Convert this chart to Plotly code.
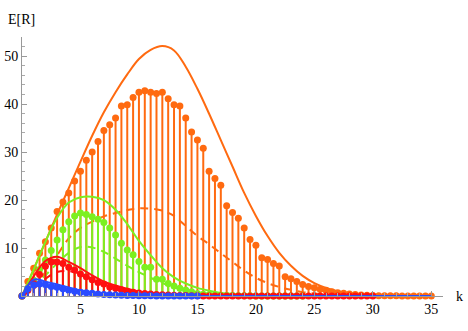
import plotly.graph_objects as go

# ---- data ----
k_orange = [i * 0.5 for i in range(71)]
orange_stems = [0, 3.0, 5.8, 8.9, 11.3, 14.2, 17.6, 19.6, 21.5, 24.0, 26.0, 28.3, 30.0, 32.2,
                34.5, 35.7, 37.1, 39.6, 39.9, 41.4, 42.5, 42.8, 42.5, 42.2, 42.5, 41.1, 39.9,
                39.6, 37.1, 34.2, 32.5, 30.8, 26.0, 24.5, 23.1, 18.8, 17.4, 16.2, 14.2, 11.8,
                10.6, 8.0, 7.6, 6.8, 6.25, 4.0, 3.6, 3.0, 2.4, 2.0, 1.7, 1.4, 1.2, 0.9, 0.7,
                0.55, 0.4, 0.3, 0.2, 0.15, 0.1, 0.07, 0.05, 0.04, 0.03, 0.02, 0.01, 0.01, 0, 0, 0]

k_green = [i * 0.5 for i in range(49)]
green_stems = [0, 1.5, 3.3, 5.5, 7.5, 9.5, 11.7, 13.8, 15.5, 16.7, 17.3, 17.0, 16.5, 16.0,
               15.3, 14.2, 12.7, 11.0, 9.6, 8.6, 7.2, 6.0, 6.0, 3.5, 3.5, 2.6, 2.1, 1.6, 1.25,
               0.9, 0.5, 0.35, 0.25, 0.2, 0.15, 0.1, 0.08, 0.05, 0.04, 0.03, 0.02, 0.01, 0.01,
               0, 0, 0, 0, 0, 0]

k_red = [i * 0.5 for i in range(61)]
red_stems = [0, 1.2, 2.6, 4.5, 6.2, 7.1, 7.1, 6.8, 6.0, 5.4, 4.6, 4.0, 3.4, 2.8, 2.5, 1.9,
             1.6, 1.3, 1.0, 0.8, 0.6, 0.5, 0.4, 0.3, 0.25, 0.2, 0.15, 0.1, 0.08, 0.05, 0.03,
             0.02, 0.01, 0.01] + [0] * 27

k_blue = [i * 0.5 for i in range(31)]
blue_stems = [0, 1.5, 2.3, 2.5, 2.4, 2.0, 1.8, 1.5, 1.2, 1.0, 0.8, 0.7, 0.55, 0.4, 0.3, 0.25,
              0.2, 0.15, 0.1, 0.08, 0.05, 0.04, 0.03, 0.02, 0.01, 0, 0, 0, 0, 0, 0]

k_curve = list(range(36))
orange_solid = [0, 5.6, 11.3, 17.0, 22.5, 28.0, 33.4, 38.3, 42.5, 46.2, 49.4, 51.3, 52.1, 51.2,
                47.8, 43.2, 38.0, 32.5, 27.0, 21.5, 16.7, 12.5, 9.0, 6.3, 4.2, 2.7, 1.7, 1.0,
                0.6, 0.35, 0.2, 0.1, 0.05, 0.02, 0.01, 0]
orange_dashed = [0, 1.8, 5.0, 8.5, 12.0, 14.2, 15.5, 16.6, 17.3, 17.9, 18.3, 18.2, 17.8, 16.7,
                 14.6, 12.5, 10.8, 8.9, 7.1, 5.3, 3.8, 2.7, 1.9, 1.3, 0.8, 0.5, 0.3, 0.15, 0.08,
                 0.04, 0.02, 0.01, 0, 0, 0, 0]
green_solid = [0, 5.5, 11.3, 16.3, 19.5, 20.6, 20.7, 20.0, 18.0, 15.0, 11.5, 8.5, 5.8, 3.9, 2.6,
               1.7, 1.1, 0.65, 0.4, 0.2, 0.1, 0.05, 0.02, 0.01, 0, 0, 0, 0, 0, 0, 0, 0, 0, 0, 0, 0]
green_dashed = [0, 2.0, 4.3, 6.8, 9.0, 10.2, 10.1, 9.2, 7.8, 6.3, 5.0, 3.8, 2.7, 1.8, 1.2, 0.7,
                0.4, 0.2, 0.1, 0.05, 0.02, 0.01, 0, 0, 0, 0, 0, 0, 0, 0, 0, 0, 0, 0, 0, 0]
red_solid = [0, 4.1, 7.3, 8.2, 7.1, 5.8, 4.3, 3.0, 2.2, 1.5, 0.95, 0.55, 0.3, 0.17, 0.08, 0.04,
             0.02, 0, 0, 0, 0, 0, 0, 0, 0, 0, 0, 0, 0, 0, 0, 0, 0, 0, 0, 0]
red_dashed = [0, 1.5, 3.6, 5.0, 5.2, 4.6, 3.6, 2.6, 1.8, 1.2, 0.8, 0.5, 0.3, 0.18, 0.1, 0.05,
              0.02, 0, 0, 0, 0, 0, 0, 0, 0, 0, 0, 0, 0, 0, 0, 0, 0, 0, 0, 0]
blue_solid = [0, 3.4, 3.0, 2.4, 1.8, 1.2, 0.8, 0.5, 0.3, 0.15, 0.08, 0.04, 0.02, 0, 0, 0, 0, 0,
              0, 0, 0, 0, 0, 0, 0, 0, 0, 0, 0, 0, 0, 0, 0, 0, 0, 0]
blue_dashed = [0, 2.1, 2.0, 1.5, 1.0, 0.65, 0.4, 0.25, 0.15, 0.08, 0.04, 0.02, 0, 0, 0, 0, 0, 0,
               0, 0, 0, 0, 0, 0, 0, 0, 0, 0, 0, 0, 0, 0, 0, 0, 0, 0]

x_ticks = [5, 10, 15, 20, 25, 30, 35]
y_ticks = [10, 20, 30, 40, 50]

ORANGE = "#ff6a10"
GREEN = "#7cf020"
RED = "#ff1010"
BLUE = "#2a4cff"

fig = go.Figure()


def add_group(k, stems, solid, dashed, color):
    fig.add_trace(go.Scatter(
        x=k, y=stems, mode="markers", cliponaxis=False,
        marker=dict(color=color, size=7),
        error_y=dict(type="data", symmetric=False, array=[0] * len(stems),
                     arrayminus=stems, thickness=2, width=0, color=color),
        showlegend=False))
    fig.add_trace(go.Scatter(x=k_curve, y=solid, mode="lines", line_shape="spline",
                             line=dict(color=color, width=2), showlegend=False))
    fig.add_trace(go.Scatter(x=k_curve, y=dashed, mode="lines", line_shape="spline",
                             line=dict(color=color, width=2, dash="8px,6px"), showlegend=False))


add_group(k_orange, orange_stems, orange_solid, orange_dashed, ORANGE)
add_group(k_green, green_stems, green_solid, green_dashed, GREEN)
add_group(k_red, red_stems, red_solid, red_dashed, RED)
add_group(k_blue, blue_stems, blue_solid, blue_dashed, BLUE)

axis_font = dict(family="Liberation Serif", size=14, color="black")

fig.update_layout(
    width=468, height=331,
    margin=dict(l=22, r=25, t=37, b=35),
    paper_bgcolor="white", plot_bgcolor="white",
    font=axis_font,
    xaxis=dict(range=[0, 36], showgrid=False, zeroline=False, showline=True, automargin=False,
               linecolor="#999999", linewidth=1, tickmode="array", tickvals=x_ticks,
               ticks="inside", ticklen=5, tickcolor="#999999", tickfont=axis_font,
               minor=dict(dtick=1, tick0=0, ticks="inside", ticklen=3, tickcolor="#aaaaaa",
                          showgrid=False)),
    yaxis=dict(range=[0, 54], showgrid=False, zeroline=False, showline=True, automargin=False,
               linecolor="#999999", linewidth=1, tickmode="array", tickvals=y_ticks,
               ticks="inside", ticklen=5, tickcolor="#999999", tickfont=axis_font,
               minor=dict(dtick=2, tick0=0, ticks="inside", ticklen=3, tickcolor="#aaaaaa",
                          showgrid=False)),
    annotations=[
        dict(text="E[R]", xref="paper", yref="paper", x=0, y=1, xshift=-16, yshift=8,
             xanchor="left", yanchor="bottom", showarrow=False, font=axis_font),
        dict(text="k", xref="paper", yref="paper", x=1, y=0, xshift=16,
             xanchor="center", yanchor="middle", showarrow=False, font=axis_font),
    ],
)

# remove the browser's default 8px body margin so the figure sits at the page origin
fig.write_html(
    "out.html",
    config={"displayModeBar": False},
    post_script="document.body.style.margin='0';document.body.style.overflow='hidden';"
                "document.documentElement.style.overflow='hidden';",
)
